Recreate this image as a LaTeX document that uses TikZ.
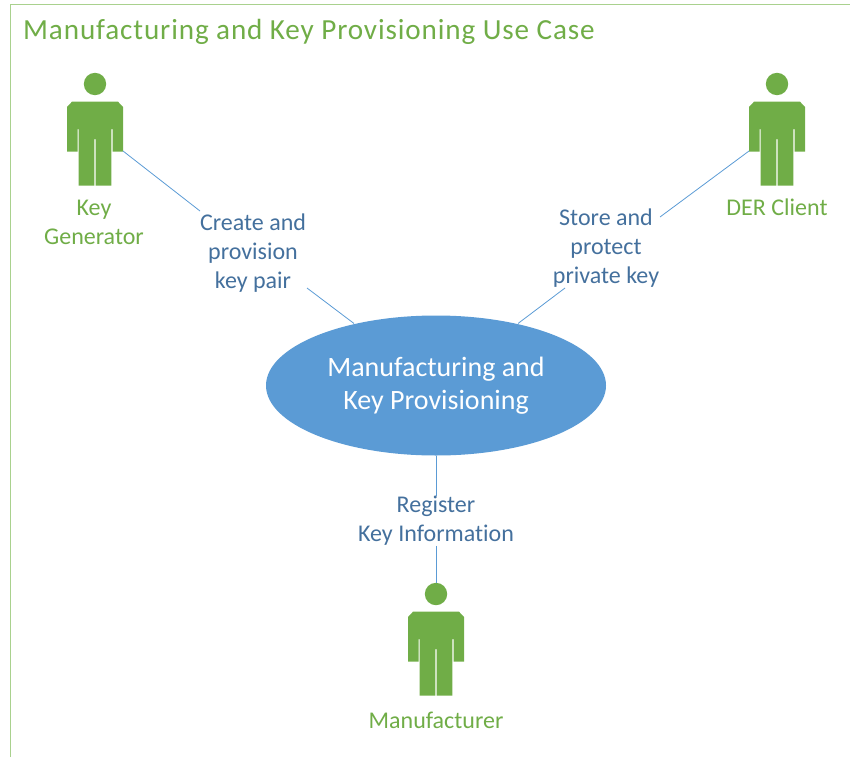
\documentclass[tikz,border=0pt]{standalone}
\usepackage{fontspec}
\setmainfont[Ligatures=NoCommon]{Carlito}
\newfontfamily\spaced[LetterSpace=3,Ligatures=NoCommon]{Carlito}
\definecolor{pgreen}{HTML}{70AD47}
\definecolor{fgreen}{HTML}{A9D18E}
\definecolor{eblue}{HTML}{5B9BD5}
\definecolor{lblue}{HTML}{44709D}
\tikzset{
  x=1pt,y=-1pt,
  person/.pic={
    \fill[pgreen] (0,0) circle[radius=11.2];
    \fill[pgreen] (-28,23) -- (-28,67.5) -- (-17.5,67.5) -- (-17.5,45) -- (-16.3,45) -- (-16.3,101.5)
      -- (-0.7,101.5) -- (-0.7,55) -- (0.7,55) -- (0.7,101.5) -- (16.3,101.5) -- (16.3,45) -- (17.5,45)
      -- (17.5,67.5) -- (28,67.5) -- (28,23) -- (23,17.7) -- (-23,17.7) -- (-28,23) -- cycle;
  },
  actorlabel/.style={text=pgreen,font=\fontsize{24}{29}\selectfont,align=center,inner sep=0pt},
  linklabel/.style={text=lblue,font=\fontsize{24}{29}\selectfont,align=center,inner sep=0pt},
  link/.style={draw=eblue,line width=0.8pt},
  usecase/.style={ellipse,fill=eblue,minimum width=340pt,minimum height=140pt,inner sep=0pt,text=white,
    align=center,font=\fontsize{28}{33.5}\selectfont},
}
\usetikzlibrary{shapes.geometric}
\begin{document}
\begin{tikzpicture}
\useasboundingbox (0,0) rectangle (850,757);
\draw[fgreen,line width=1.2pt] (10.5,757) -- (10.5,4.5) -- (850,4.5);
\node[anchor=west,inner sep=0pt,text=pgreen,font=\spaced\fontsize{29.15}{33}\selectfont] (title) at (23,32) {Manufacturing and Key Provisioning Use Case};
\pic at (95,84) {person};
\pic at (777,84) {person};
\pic at (436,594) {person};
\node[usecase] (uc) at (436,385.5) {Manufacturing and\\Key Provisioning};
\node[actorlabel] (keygen) at (94,222.5) {Key\\Generator};
\node[actorlabel] (der) at (777,207.5) {DER Client};
\node[actorlabel] (mfr) at (436,720) {Manufacturer};
\node[linklabel] (create) at (253,253.5) {Create and\\provision\\key pair};
\node[linklabel] (store) at (606,248.5) {Store and\\protect\\private key};
\node[linklabel] (reg) at (436,521) {Register\\Key Information};
\coordinate (kgarm) at (123,151);
\coordinate (derarm) at (749,151);
\coordinate (mfrhead) at (436,583);
\coordinate (a1) at (200,211);
\coordinate (a2) at (307,288);
\coordinate (a3) at (660,217);
\coordinate (a4) at (565,288);
\coordinate (ucA) at (354,323.5);
\coordinate (ucB) at (518,323.5);
\draw[link] (kgarm) -- (a1);
\draw[link] (a2) -- (ucA);
\draw[link] (derarm) -- (a3);
\draw[link] (a4) -- (ucB);
\draw[link] (uc.south) -- (reg.north);
\draw[link] (reg.south) -- (mfrhead);
\end{tikzpicture}
\end{document}
